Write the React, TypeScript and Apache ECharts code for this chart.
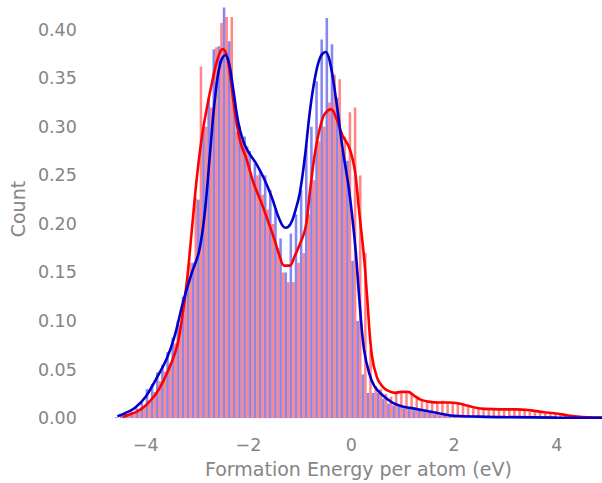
import React, { useEffect, useRef } from "react";
import * as echarts from "echarts";

const binStart = -4.6;
const binWidth = 0.1;

const blueHist = [
  0.001, 0.002, 0.004, 0.006, 0.010, 0.016, 0.030, 0.035, 0.047, 0.055,
  0.068, 0.083, 0.100, 0.125, 0.145, 0.160, 0.225, 0.300, 0.330, 0.380,
  0.383, 0.423, 0.388, 0.330, 0.300, 0.290, 0.275, 0.262, 0.255, 0.250,
  0.235, 0.215, 0.185, 0.150, 0.190, 0.210, 0.235, 0.281, 0.300, 0.347,
  0.390, 0.412, 0.385, 0.330, 0.276, 0.265, 0.162, 0.100, 0.045, 0.026,
  0.026, 0.026, 0.020, 0.015, 0.013, 0.012, 0.010, 0.010, 0.008, 0.008,
  0.007, 0.006, 0.004, 0.003, 0.003, 0.002, 0.002, 0.001, 0.001, 0.001,
  0.001, 0, 0, 0, 0, 0, 0, 0, 0, 0,
  0, 0, 0, 0, 0, 0, 0, 0, 0, 0,
  0, 0, 0,
];

const redHist = [
  0.000, 0.001, 0.003, 0.004, 0.007, 0.011, 0.018, 0.027, 0.038, 0.048,
  0.056, 0.077, 0.096, 0.128, 0.160, 0.227, 0.362, 0.300, 0.320, 0.382,
  0.407, 0.413, 0.413, 0.295, 0.285, 0.280, 0.245, 0.250, 0.230, 0.215,
  0.200, 0.175, 0.150, 0.140, 0.140, 0.160, 0.170, 0.210, 0.245, 0.285,
  0.300, 0.325, 0.354, 0.349, 0.290, 0.315, 0.320, 0.250, 0.170, 0.071,
  0.033, 0.030, 0.025, 0.022, 0.026, 0.028, 0.027, 0.025, 0.022, 0.018,
  0.017, 0.016, 0.016, 0.018, 0.016, 0.015, 0.016, 0.014, 0.012, 0.010,
  0.010, 0.009, 0.009, 0.010, 0.009, 0.008, 0.009, 0.008, 0.009, 0.008,
  0.007, 0.006, 0.006, 0.005, 0.004, 0.004, 0.003, 0.003, 0.002, 0.002,
  0.001, 0.001, 0.000,
];

const blueKdeX = [
  -4.55, -4.4, -4.2, -4.0, -3.8, -3.6, -3.45, -3.26, -3.1, -2.96,
  -2.85, -2.74, -2.65, -2.55, -2.45, -2.38, -2.3, -2.2, -2.1, -2.0,
  -1.85, -1.7, -1.55, -1.4, -1.28, -1.18, -1.08, -1.0, -0.9, -0.8,
  -0.7, -0.6, -0.5, -0.42, -0.3, -0.17, -0.04, 0.08, 0.17, 0.25,
  0.35, 0.45, 0.6, 0.8, 1.0, 1.2, 1.4, 1.6, 1.8, 2.0,
  2.5, 3.0, 4.0, 4.88,
];
const blueKdeY = [
  0.002, 0.005, 0.011, 0.022, 0.040, 0.060, 0.082, 0.122, 0.150, 0.172,
  0.212, 0.278, 0.33, 0.365, 0.374, 0.366, 0.34, 0.305, 0.285, 0.274,
  0.262, 0.247, 0.228, 0.205, 0.196, 0.2, 0.215, 0.232, 0.27, 0.318,
  0.352, 0.372, 0.377, 0.368, 0.33, 0.278, 0.234, 0.176, 0.114, 0.07,
  0.046, 0.033, 0.024, 0.016, 0.012, 0.010, 0.008, 0.006, 0.004, 0.0025,
  0.0015, 0.001, 0.0005, 0.0003,
];

const redKdeX = [
  -4.45, -4.3, -4.16, -4.0, -3.8, -3.64, -3.5, -3.39, -3.3, -3.2,
  -3.1, -3.0, -2.9, -2.8, -2.7, -2.6, -2.5, -2.43, -2.35, -2.25,
  -2.15, -2.04, -1.9, -1.75, -1.66, -1.5, -1.4, -1.3, -1.2, -1.1,
  -1.0, -0.89, -0.8, -0.69, -0.55, -0.45, -0.39, -0.3, -0.17, -0.05,
  0.03, 0.08, 0.15, 0.25, 0.31, 0.4, 0.5, 0.6, 0.72, 0.85,
  0.97, 1.1, 1.23, 1.35, 1.5, 1.7, 1.9, 2.1, 2.25, 2.4,
  2.6, 2.9, 3.2, 3.5, 3.75, 3.95, 4.2, 4.4, 4.6, 4.88,
];
const redKdeY = [
  0.001, 0.004, 0.007, 0.013, 0.025, 0.040, 0.057, 0.074, 0.100, 0.140,
  0.195, 0.250, 0.292, 0.322, 0.348, 0.370, 0.380, 0.375, 0.35, 0.31,
  0.283, 0.267, 0.242, 0.222, 0.209, 0.185, 0.168, 0.157, 0.157, 0.167,
  0.179, 0.196, 0.235, 0.278, 0.31, 0.317, 0.318, 0.31, 0.291, 0.28,
  0.266, 0.252, 0.215, 0.165, 0.124, 0.065, 0.042, 0.033, 0.028, 0.026,
  0.027, 0.027, 0.023, 0.019, 0.017, 0.016, 0.016, 0.015, 0.013, 0.011,
  0.0095, 0.009, 0.009, 0.008, 0.006, 0.005, 0.003, 0.0015, 0.0008, 0.0005,
];

const xTickValues = [-4, -2, 0, 2, 4];
const yTickValues = [0, 0.05, 0.1, 0.15, 0.2, 0.25, 0.3, 0.35, 0.4];

const labelColor = "#858585";

function histData(values: number[]) {
  return values.map((v, i) => [binStart + i * binWidth, binStart + (i + 1) * binWidth, v]);
}

function makeRender(side: "left" | "right", color: string) {
  return (params: any, api: any) => {
    const start = api.value(0);
    const end = api.value(1);
    const v = api.value(2);
    const mid = (start + end) / 2;
    const x0 = side === "left" ? start : mid;
    const x1 = side === "left" ? mid : end;
    const p0 = api.coord([x0, v]);
    const p1 = api.coord([x1, 0]);
    return {
      type: "rect",
      shape: { x: p0[0], y: p0[1], width: p1[0] - p0[0], height: p1[1] - p0[1] },
      style: { fill: color },
    };
  };
}

export default function App() {
  const ref = useRef<HTMLDivElement>(null);
  useEffect(() => {
    if (!ref.current) return;
    const chart = echarts.init(ref.current, null, { renderer: "svg" });
    const font = "DejaVu Sans";
    chart.setOption({
      animation: false,
      backgroundColor: "#ffffff",
      grid: { left: 110, right: 0, top: 0, bottom: 61, containLabel: false },
      xAxis: {
        type: "value",
        min: -4.6,
        max: 4.88,
        name: "Formation Energy per atom (eV)",
        nameLocation: "middle",
        nameGap: 39,
        nameTextStyle: { color: labelColor, fontSize: 19, fontFamily: font },
        axisLine: { show: false },
        axisTick: { show: false },
        splitLine: { show: false },
        axisLabel: {
          customValues: xTickValues,
          color: labelColor,
          fontSize: 17.5,
          fontFamily: font,
          margin: 18,
          formatter: (v: number) => (v < 0 ? "\u2212" + Math.abs(v) : String(v)),
        },
      },
      yAxis: {
        type: "value",
        min: 0,
        max: 0.4306,
        name: "Count",
        nameLocation: "middle",
        nameGap: 82,
        nameTextStyle: { color: labelColor, fontSize: 19, fontFamily: font },
        axisLine: { show: false },
        axisTick: { show: false },
        splitLine: { show: false },
        axisLabel: {
          customValues: yTickValues,
          color: labelColor,
          fontSize: 17.5,
          fontFamily: font,
          margin: 38,
          formatter: (v: number) => v.toFixed(2),
        },
      },
      series: [
        {
          type: "custom",
          renderItem: makeRender("left", "rgba(0,0,220,0.47)"),
          data: histData(blueHist),
          encode: { x: [0, 1], y: 2 },
          z: 1,
        },
        {
          type: "custom",
          renderItem: makeRender("right", "rgba(255,0,0,0.47)"),
          data: histData(redHist),
          encode: { x: [0, 1], y: 2 },
          z: 1,
        },
        {
          type: "line",
          data: redKdeX.map((x, i) => [x, redKdeY[i]]),
          smooth: 0.4,
          showSymbol: false,
          lineStyle: { color: "#ff0000", width: 2.6 },
          z: 3,
        },
        {
          type: "line",
          data: blueKdeX.map((x, i) => [x, blueKdeY[i]]),
          smooth: 0.4,
          showSymbol: false,
          lineStyle: { color: "#0000cd", width: 2.6 },
          z: 4,
        },
      ],
    });
    return () => chart.dispose();
  }, []);
  return (
    <div
      ref={ref}
      style={{ position: "fixed", left: 0, top: 0, width: 602, height: 483 }}
    />
  );
}
